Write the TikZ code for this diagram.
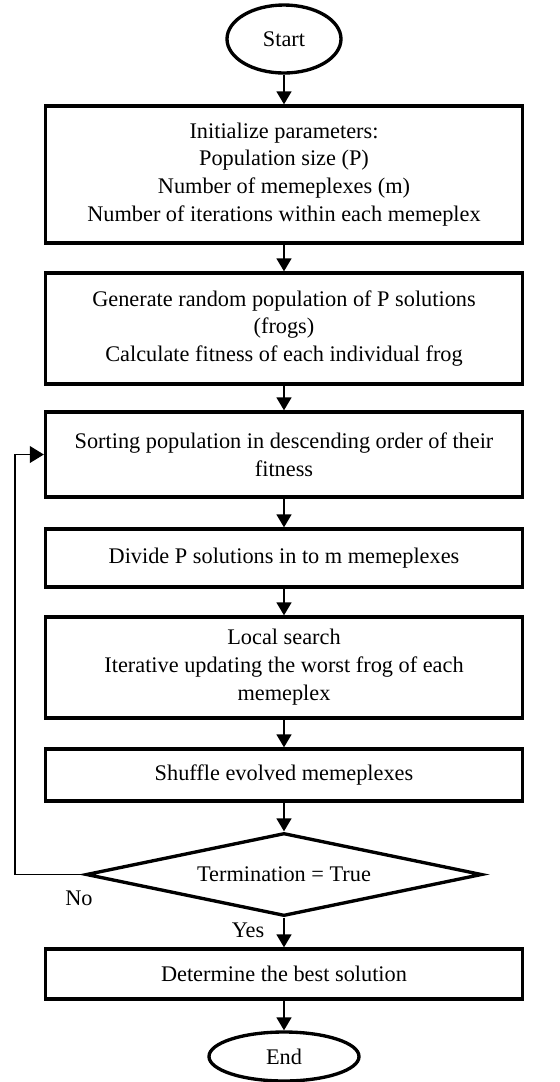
\documentclass[tikz,border=0pt]{standalone}
\usepackage{fontspec}
\setmainfont{Liberation Serif}
\usepackage{tikz}
\usetikzlibrary{shapes.geometric,arrows.meta}
\newlength\pxu
\setlength\pxu{0.538pt}

\begin{document}
\begin{tikzpicture}[x=1\pxu,y=-1\pxu,font=\fontsize{12}{15}\selectfont,
  box/.style={rectangle,draw,line width=1.8pt,align=center,minimum width=477\pxu,minimum height=#1\pxu,inner sep=0pt},
  term/.style n args={2}{ellipse,draw,line width=1.8pt,minimum width=#1\pxu,minimum height=#2\pxu,inner sep=0pt},
  flow/.style={line width=1.2pt,-{Triangle[length=7pt,width=8pt]}},
  back/.style={line width=0.7pt,-{Triangle[length=7.5pt,width=9pt]}}]
\useasboundingbox (0,0) rectangle (560,1082);
\node[term={114}{68}] (start) at (284,39) {Start};
\node[box=137] (init) at (284,174.5) {Initialize parameters:\\Population size (P)\\Number of memeplexes (m)\\Number of iterations within each memeplex};
\node[box=111] (gen) at (284,328.5) {Generate random population of P solutions\\(frogs)\\Calculate fitness of each individual frog};
\node[box=85] (sort) at (284,454.5) {Sorting population in descending order of their\\fitness};
\node[box=58] (divide) at (284,558) {Divide P solutions in to m memeplexes};
\node[box=101] (local) at (284,667.5) {Local search\\Iterative updating the worst frog of each\\memeplex};
\node[box=52] (shuffle) at (284,775) {Shuffle evolved memeplexes};
\node[diamond,draw,line width=1.8pt,aspect=4.8,minimum width=396\pxu,minimum height=83\pxu,inner sep=0pt] (cond) at (284,874.5) {Termination = True};
\node[box=50] (best) at (284,974) {Determine the best solution};
\node[term={150}{49}] (end) at (284,1056.5) {End};
\foreach \a/\b in %
{start/init,init/gen,gen/sort,sort/divide,divide/local,local/shuffle,shuffle/cond,cond/best,best/end} {
   \draw[flow] (\a.south) -- (\b.north);
}
\coordinate (corner) at (15,874.5);
\draw[back] (cond.west) -- (corner) |- (sort.west);
\node (no) at (79,898) {No};
\node (yes) at (248,930) {Yes};
\end{tikzpicture}
\end{document}
